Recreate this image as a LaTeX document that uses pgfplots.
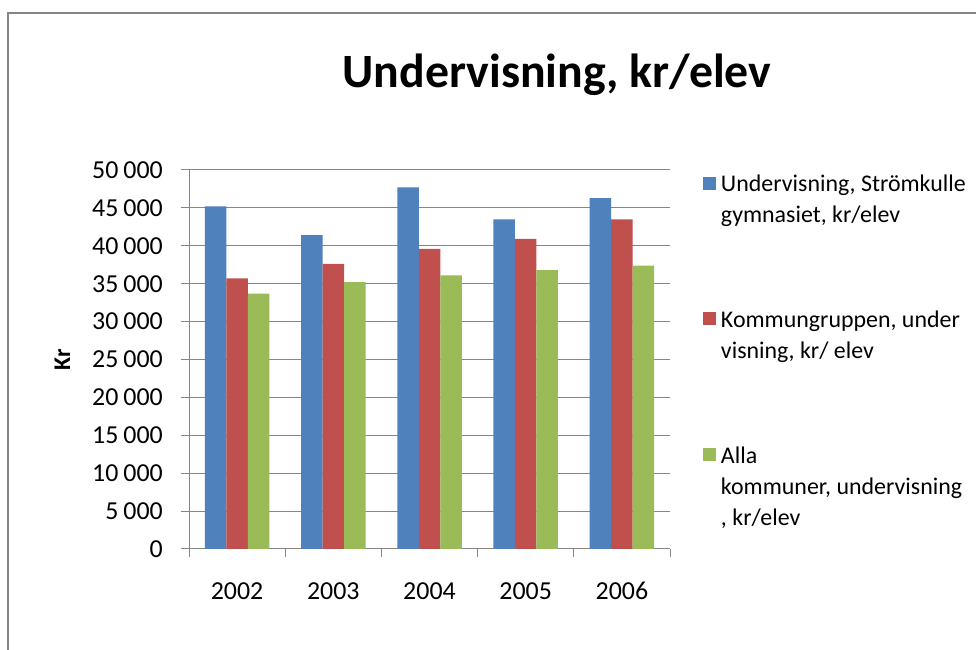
\documentclass[border=0pt]{standalone}
\usepackage{fontspec}
\setmainfont{Carlito}
\usepackage{pgfplots}
\pgfplotsset{compat=1.18}
\definecolor{cblue}{HTML}{4F81BD}
\definecolor{cred}{HTML}{C0504D}
\definecolor{cgreen}{HTML}{9BBB59}
\definecolor{cgrid}{HTML}{868686}
\begin{document}
\begin{tikzpicture}
\useasboundingbox (0,0) rectangle (976bp,650bp);
\fill[white] (0,0) rectangle (976bp,650bp);
\draw[color=cgrid, line width=1.5bp] (8bp,-5bp) -- (8bp,637bp) -- (990bp,637bp);
\node[font=\bfseries\fontsize{48}{58}\selectfont, anchor=base] at (557bp,562bp) {Undervisning, kr/elev};
\begin{axis}[
  at={(189bp,101bp)}, anchor=south west,
  scale only axis, width=481bp, height=379bp,
  ybar=0pt, bar width=21.5bp,
  xmin=-0.5, xmax=4.5, ymin=0, ymax=50000,
  xtick={0,1,2,3,4}, xticklabels={2002,2003,2004,2005,2006},
  major x tick style={draw=none},
  minor xtick={-0.5,0.5,1.5,2.5,3.5,4.5},
  ytick={0,5000,...,50000},
  tick align=outside, major tick length=8bp, minor tick length=8bp,
  axis x line*=bottom, axis y line*=left,
  ymajorgrids, grid style={cgrid, line width=1bp},
  axis line style={cgrid, line width=1bp},
  tick style={cgrid, line width=1bp},
  scaled y ticks=false,
  /pgf/number format/assume math mode=true,
  /pgf/number format/1000 sep={\hspace{5bp}},
  ticklabel style={font=\fontsize{26}{31}\selectfont, inner sep=0pt},
  yticklabel style={anchor=east, xshift=-18bp},
  xticklabel style={anchor=base, yshift=-43bp},
  ylabel={Kr},
  every axis y label/.style={at={(axis description cs:-0.263,0.5)}, rotate=90, anchor=center, font=\bfseries\fontsize{24}{28}\selectfont},
  legend style={at={(axis description cs:1.0686,0.992)}, anchor=north west,
    draw=none, fill=none, inner sep=0pt, outer sep=0pt,
    row sep=83bp, column sep=3bp,
    font=\fontsize{24}{31}\selectfont,
    cells={anchor=base west, align=left, inner sep=0pt}},
]
\addplot[fill=cblue, draw=none, legend image code/.code={\fill[cblue] (0bp,33bp) rectangle (13bp,46bp);}]
  coordinates {(0,45200) (1,41400) (2,47700) (3,43500) (4,46300)};
\addlegendentry{Undervisning, Strömkulle\\gymnasiet, kr/elev}
\addplot[fill=cred, draw=none, legend image code/.code={\fill[cred] (0bp,33bp) rectangle (13bp,46bp);}]
  coordinates {(0,35700) (1,37600) (2,39600) (3,40900) (4,43500)};
\addlegendentry{Kommungruppen, under\\visning, kr/ elev}
\addplot[fill=cgreen, draw=none, legend image code/.code={\fill[cgreen] (0bp,64bp) rectangle (13bp,77bp);}]
  coordinates {(0,33700) (1,35200) (2,36100) (3,36800) (4,37400)};
\addlegendentry{Alla\\kommuner, undervisning\\, kr/elev}
\end{axis}
\end{tikzpicture}
\end{document}
